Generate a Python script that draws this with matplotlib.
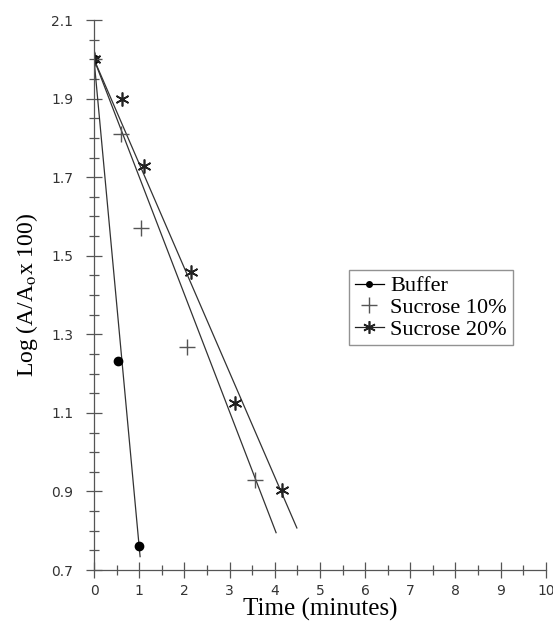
#!/usr/bin/env python

from matplotlib import pyplot as plt
from matplotlib.lines import Line2D
from matplotlib.ticker import MultipleLocator

plt.rcParams['font.family'] = ['Liberation Serif', 'DejaVu Serif']
plt.rcParams['mathtext.fontset'] = 'stix'

# measured points
buffer_x = [0, 0.53, 1.0]
buffer_y = [2.0, 1.232, 0.762]
suc10_x = [0, 0.6, 1.05, 2.05, 3.57]
suc10_y = [2.0, 1.81, 1.571, 1.268, 0.93]
suc20_x = [0, 0.62, 1.11, 2.15, 3.12, 4.16]
suc20_y = [2.0, 1.899, 1.729, 1.459, 1.125, 0.904]

# fitted lines (start / end)
buffer_fit_x = [0, 1.02]
buffer_fit_y = [2.0, 0.734]
suc10_fit_x = [0, 4.03]
suc10_fit_y = [2.0, 0.795]
suc20_fit_x = [0, 4.49]
suc20_fit_y = [2.0, 0.807]

xticks = list(range(0, 11))
yticks = [0.7, 0.9, 1.1, 1.3, 1.5, 1.7, 1.9, 2.1]

fig = plt.figure(figsize=(5.53, 6.25), dpi=100)
ax = fig.add_axes([0.170, 0.088, 0.817, 0.880])

line_kw = dict(color='#333333', lw=0.9)
ax.plot(buffer_fit_x, buffer_fit_y, **line_kw)
ax.plot(suc10_fit_x, suc10_fit_y, **line_kw)
ax.plot(suc20_fit_x, suc20_fit_y, **line_kw)

buf_style = dict(marker='o', ms=6, color='black', mec='black')
s10_style = dict(marker='+', ms=12, color='#555555', mew=1.0)
s20_style = dict(marker=(6, 2, 0), ms=10, color='#222222', mew=1.2)

ax.plot(buffer_x, buffer_y, ls='none', **buf_style)
ax.plot(suc10_x, suc10_y, ls='none', **s10_style)
ax.plot(suc20_x, suc20_y, ls='none', **s20_style)

ax.set_xlim(0, 10)
ax.set_ylim(0.7, 2.1)
ax.set_xticks(xticks)
ax.set_yticks(yticks)
ax.set_yticklabels(['%.1f' % v for v in yticks])
ax.xaxis.set_minor_locator(MultipleLocator(0.5))
ax.yaxis.set_minor_locator(MultipleLocator(0.05))
ax.tick_params(which='major', direction='inout', length=12, width=0.9,
               color='#555555', labelcolor='#333333', labelsize=10)
ax.tick_params(which='minor', direction='inout', length=7, width=0.9,
               color='#555555')
ax.tick_params(axis='x', pad=4)
ax.tick_params(axis='y', pad=9)
for lbl in ax.get_xticklabels() + ax.get_yticklabels():
    lbl.set_family('DejaVu Sans')

for s in ['top', 'right']:
    ax.spines[s].set_visible(False)
for s in ['left', 'bottom']:
    ax.spines[s].set_color('#555555')
    ax.spines[s].set_linewidth(0.9)

ax.set_xlabel('Time (minutes)', fontsize=18, labelpad=0)
ax.set_ylabel(r'Log (A/A$_{\mathrm{o}}$x 100)', fontsize=17, labelpad=8)

handles = [
    Line2D([], [], ls='-', lw=0.9, ms=4, **{k: v for k, v in buf_style.items() if k != 'ms'}),
    Line2D([], [], ls='none', **{**s10_style, 'ms': 11}),
    Line2D([], [], ls='-', lw=0.9, **{**s20_style, 'ms': 9}),
]
leg = ax.legend(handles, ['Buffer', 'Sucrose 10%', 'Sucrose 20%'],
                loc='upper left', bbox_to_anchor=(0.565, 0.545),
                fontsize=16, frameon=True, fancybox=False,
                handlelength=1.3, handletextpad=0.3, labelspacing=0.05,
                borderpad=0.25, borderaxespad=0)
leg.get_frame().set_edgecolor('#777777')
leg.get_frame().set_linewidth(1.0)

plt.savefig('out.png', dpi=100)
